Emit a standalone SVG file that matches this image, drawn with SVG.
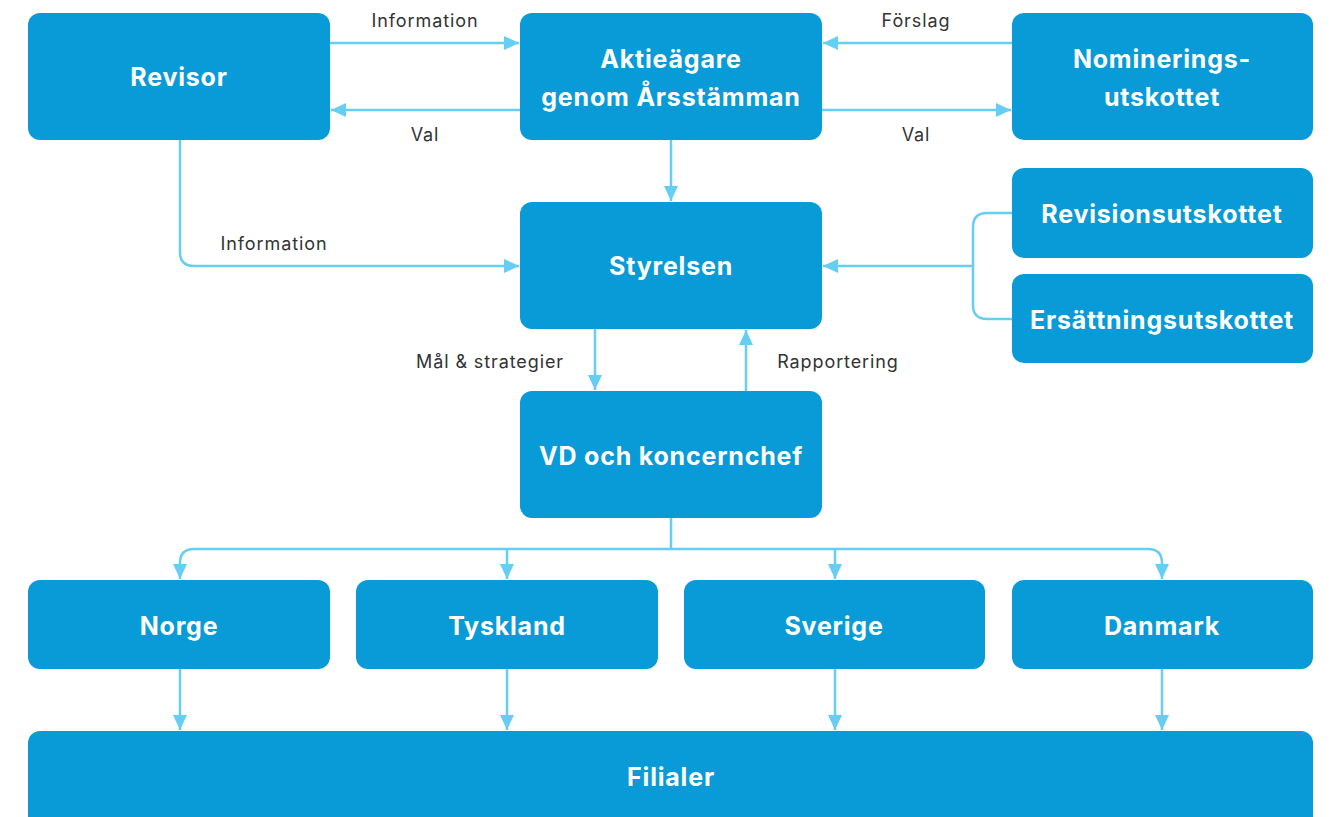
<svg xmlns="http://www.w3.org/2000/svg" width="1335" height="817" viewBox="0 0 1335 817">
<style>
.n{fill:#089BD8}
.t{font-family:Inter,"Liberation Sans",sans-serif;font-weight:700;font-size:25px;letter-spacing:0.8px;fill:#fff;text-anchor:middle}
.l{font-family:Inter,"Liberation Sans",sans-serif;font-size:18px;letter-spacing:0.9px;fill:#333;text-anchor:middle}
.c{fill:none;stroke:#66CDF3;stroke-width:2.5}
</style>
<defs>
<marker id="a" markerUnits="userSpaceOnUse" markerWidth="16" markerHeight="16" viewBox="0 0 16 16" refX="15" refY="8" orient="auto">
<path d="M0,1 L15,8 L0,15 Z" fill="#66CDF3"/>
</marker>
</defs>
<rect width="1335" height="817" fill="#fff"/>
<g id="connectors">
<path class="c" d="M330,43 H519" marker-end="url(#a)"/>
<path class="c" d="M520,110 H331" marker-end="url(#a)"/>
<path class="c" d="M1012,43 H823" marker-end="url(#a)"/>
<path class="c" d="M822,110 H1011" marker-end="url(#a)"/>
<path class="c" d="M671,140 V201" marker-end="url(#a)"/>
<path class="c" d="M180,140 V252 Q180,266 194,266 H519" marker-end="url(#a)"/>
<path class="c" d="M1012,213 H987 Q973,213 973,227 V305 Q973,319 987,319 H1012"/>
<path class="c" d="M973,266 H823" marker-end="url(#a)"/>
<path class="c" d="M595,329 V390" marker-end="url(#a)"/>
<path class="c" d="M746,391 V330" marker-end="url(#a)"/>
<path class="c" d="M671,518 V549"/>
<path class="c" d="M194,549 H1148"/>
<path class="c" d="M194,549 Q180,549 180,563 V579" marker-end="url(#a)"/>
<path class="c" d="M1148,549 Q1162,549 1162,563 V579" marker-end="url(#a)"/>
<path class="c" d="M507,549 V579" marker-end="url(#a)"/>
<path class="c" d="M835,549 V579" marker-end="url(#a)"/>
<path class="c" d="M180,669 V730" marker-end="url(#a)"/>
<path class="c" d="M507,669 V730" marker-end="url(#a)"/>
<path class="c" d="M835,669 V730" marker-end="url(#a)"/>
<path class="c" d="M1162,669 V730" marker-end="url(#a)"/>
<text class="l" x="425" y="27">Information</text>
<text class="l" x="425" y="141">Val</text>
<text class="l" x="916" y="27">Förslag</text>
<text class="l" x="916" y="141">Val</text>
<text class="l" x="274" y="250">Information</text>
<text class="l" x="490" y="368">Mål &amp; strategier</text>
<text class="l" x="838" y="368">Rapportering</text>
</g>
<g id="revisor"><rect class="n" x="28" y="13" width="302" height="127" rx="12"/><text class="t" x="179" y="86">Revisor</text></g>
<g id="aktieagare"><rect class="n" x="520" y="13" width="302" height="127" rx="12"/><text class="t" x="671" y="68">Aktieägare</text><text class="t" x="671" y="106">genom Årsstämman</text></g>
<g id="nominering"><rect class="n" x="1012" y="13" width="301" height="127" rx="12"/><text class="t" x="1162" y="68">Nominerings-</text><text class="t" x="1162" y="106">utskottet</text></g>
<g id="styrelsen"><rect class="n" x="520" y="202" width="302" height="127" rx="12"/><text class="t" x="671" y="275">Styrelsen</text></g>
<g id="revisionsutskottet"><rect class="n" x="1012" y="168" width="301" height="90" rx="12"/><text class="t" x="1162" y="223">Revisionsutskottet</text></g>
<g id="ersattningsutskottet"><rect class="n" x="1012" y="274" width="301" height="89" rx="12"/><text class="t" x="1162" y="329">Ersättningsutskottet</text></g>
<g id="vd"><rect class="n" x="520" y="391" width="302" height="127" rx="12"/><text class="t" x="671" y="465">VD och koncernchef</text></g>
<g id="norge"><rect class="n" x="28" y="580" width="302" height="89" rx="12"/><text class="t" x="179" y="635">Norge</text></g>
<g id="tyskland"><rect class="n" x="356" y="580" width="302" height="89" rx="12"/><text class="t" x="507" y="635">Tyskland</text></g>
<g id="sverige"><rect class="n" x="684" y="580" width="301" height="89" rx="12"/><text class="t" x="834" y="635">Sverige</text></g>
<g id="danmark"><rect class="n" x="1012" y="580" width="301" height="89" rx="12"/><text class="t" x="1162" y="635">Danmark</text></g>
<g id="filialer"><rect class="n" x="28" y="731" width="1285" height="110" rx="12"/><text class="t" x="671" y="786">Filialer</text></g>
</svg>
